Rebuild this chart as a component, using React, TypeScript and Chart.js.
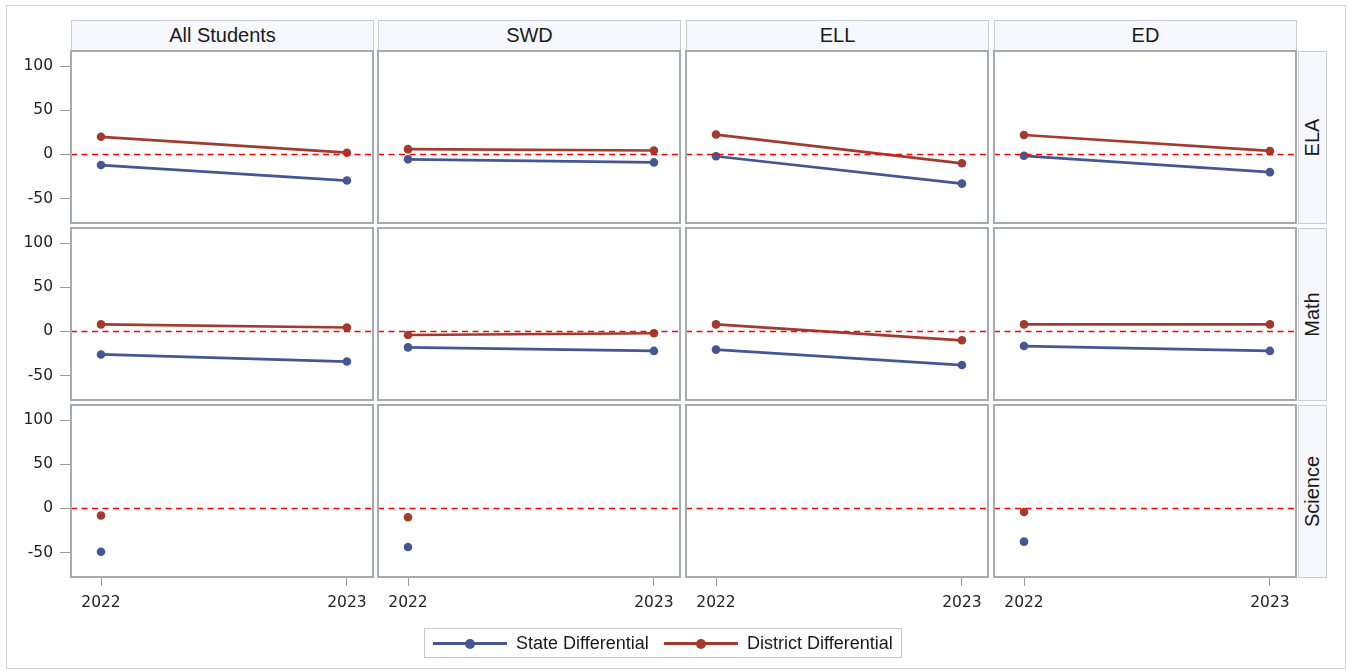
import React, { useEffect, useRef } from "react";
import { Chart, registerables } from "chart.js";

Chart.register(...registerables);

// ---------- data ----------
const YEARS = [2022, 2023];
const SUBGROUPS = ["All Students", "SWD", "ELL", "ED"];
const SUBJECTS = ["ELA", "Math", "Science"];
const Y_TICKS = [-50, 0, 50, 100];
const ZERO_REF = 0;

// one pair [2022, 2023] per subgroup (All Students, SWD, ELL, ED)
const STATE_ELA = [[-12, -29.5], [-5.5, -9], [-2, -33], [-1.5, -20]];
const DISTRICT_ELA = [[20, 2], [6, 4.5], [22.5, -10], [22, 4]];
const STATE_MATH = [[-26, -34], [-18, -22], [-20.5, -38], [-16.5, -22]];
const DISTRICT_MATH = [[8, 4.5], [-4, -2], [8, -10], [8, 8]];
const STATE_SCIENCE = [[-49, null], [-43.5, null], [null, null], [-37.5, null]];
const DISTRICT_SCIENCE = [[-8, null], [-10, null], [null, null], [-4, null]];

const STATE_BY_SUBJECT = [STATE_ELA, STATE_MATH, STATE_SCIENCE];
const DISTRICT_BY_SUBJECT = [DISTRICT_ELA, DISTRICT_MATH, DISTRICT_SCIENCE];

const SERIES_NAMES = ["State Differential", "District Differential"];
const SERIES_COLORS = ["#445694", "#A23A2E"];

// ---------- layout ----------
const PANEL_LEFT = [71, 378, 686, 994];
const PANEL_W = 302;
const PANEL_TOP = [51, 228, 405];
const PANEL_H = 172;
const PAD = 4;
const YAXIS_W = 64;
const XAXIS_H = 40;
const X_MIN = 2021.878;
const X_MAX = 2023.106;
const Y_MIN = -77.5;
const Y_MAX = 117;

const TICK_FONT = { family: "'DejaVu Sans', sans-serif", size: 15.5 };
const LABEL_FONT = "'Liberation Sans', Arial, sans-serif";

const panelPlugin = {
  id: "panelDecor",
  afterDatasetsDraw(chart: any) {
    const { ctx, chartArea, scales } = chart;
    const y0 = scales.y.getPixelForValue(ZERO_REF);
    ctx.save();
    ctx.strokeStyle = "#ff0000";
    ctx.lineWidth = 1.5;
    ctx.setLineDash([6, 4.5]);
    ctx.beginPath();
    ctx.moveTo(chartArea.left, y0);
    ctx.lineTo(chartArea.right, y0);
    ctx.stroke();
    ctx.restore();
  },
  afterDraw(chart: any) {
    const { ctx, chartArea } = chart;
    ctx.save();
    ctx.strokeStyle = "#a7abaf";
    ctx.lineWidth = 2;
    ctx.strokeRect(
      chartArea.left,
      chartArea.top,
      chartArea.right - chartArea.left,
      chartArea.bottom - chartArea.top
    );
    ctx.restore();
  },
};

function Panel({ r, c }: { r: number; c: number }) {
  const ref = useRef<HTMLCanvasElement | null>(null);
  const showY = c === 0;
  const showX = r === SUBJECTS.length - 1;
  const left = PANEL_LEFT[c] - PAD - (showY ? YAXIS_W : 0);
  const top = PANEL_TOP[r] - PAD;
  const w = PANEL_W + 2 * PAD + (showY ? YAXIS_W : 0);
  const h = PANEL_H + 2 * PAD + (showX ? XAXIS_H : 0);

  useEffect(() => {
    if (!ref.current) return;
    const stateVals = STATE_BY_SUBJECT[r][c];
    const districtVals = DISTRICT_BY_SUBJECT[r][c];
    const toPoints = (vals: (number | null)[]) =>
      YEARS.map((yr, i) => ({ x: yr, y: vals[i] }));
    const chart = new Chart(ref.current, {
      type: "line",
      data: {
        datasets: [stateVals, districtVals].map((vals, i) => ({
          label: SERIES_NAMES[i],
          data: toPoints(vals),
          borderColor: SERIES_COLORS[i],
          backgroundColor: SERIES_COLORS[i],
          pointBackgroundColor: SERIES_COLORS[i],
          pointBorderWidth: 0,
          pointRadius: 4.3,
          borderWidth: 2.7,
          spanGaps: false,
        })),
      },
      options: {
        responsive: false,
        animation: false,
        events: [],
        layout: {
          autoPadding: false,
          padding: { left: PAD, right: PAD, top: PAD, bottom: PAD },
        },
        plugins: { legend: { display: false }, tooltip: { enabled: false } },
        scales: {
          x: {
            type: "linear",
            display: showX,
            min: X_MIN,
            max: X_MAX,
            afterBuildTicks: (s: any) => {
              s.ticks = YEARS.map((v) => ({ value: v }));
            },
            afterFit: (s: any) => {
              s.height = showX ? XAXIS_H : 0;
              s.paddingLeft = 0;
              s.paddingRight = 0;
            },
            ticks: {
              font: TICK_FONT,
              color: "#222",
              padding: 8,
              maxRotation: 0,
              callback: (v: any) => String(v),
            },
            grid: { drawOnChartArea: false, tickLength: 9, color: "#9a9a9a" },
            border: { display: false },
          },
          y: {
            type: "linear",
            display: showY,
            min: Y_MIN,
            max: Y_MAX,
            afterBuildTicks: (s: any) => {
              s.ticks = Y_TICKS.map((v) => ({ value: v }));
            },
            afterFit: (s: any) => {
              s.width = showY ? YAXIS_W : 0;
              s.paddingTop = 0;
              s.paddingBottom = 0;
            },
            ticks: {
              font: TICK_FONT,
              color: "#222",
              padding: 7,
              callback: (v: any) => String(v),
            },
            grid: { drawOnChartArea: false, tickLength: 11, color: "#9a9a9a" },
            border: { display: false },
          },
        },
      },
      plugins: [panelPlugin],
    } as any);
    return () => chart.destroy();
  }, [r, c]);

  return (
    <canvas
      ref={ref}
      width={w}
      height={h}
      style={{ position: "absolute", left, top, width: w, height: h }}
    />
  );
}

const stripStyle: React.CSSProperties = {
  position: "absolute",
  boxSizing: "border-box",
  background: "#f6f8fd",
  border: "1px solid #c9cdd2",
  display: "flex",
  alignItems: "center",
  justifyContent: "center",
  fontFamily: LABEL_FONT,
  fontSize: 20,
  color: "#1a1a1a",
};

function LegendItem({ i, left }: { i: number; left: number }) {
  return (
    <div style={{ position: "absolute", left, top: 0, height: 28, display: "flex", alignItems: "center" }}>
      <div style={{ position: "relative", width: 74, height: 28 }}>
        <div
          style={{
            position: "absolute",
            left: 0,
            top: 13,
            width: 74,
            height: 3,
            background: SERIES_COLORS[i],
          }}
        />
        <div
          style={{
            position: "absolute",
            left: 32,
            top: 9.5,
            width: 10,
            height: 10,
            borderRadius: 5,
            background: SERIES_COLORS[i],
          }}
        />
      </div>
      <span
        style={{
          marginLeft: 9,
          fontFamily: LABEL_FONT,
          fontSize: 18,
          color: "#1a1a1a",
          whiteSpace: "nowrap",
        }}
      >
        {SERIES_NAMES[i]}
      </span>
    </div>
  );
}

export default function App() {
  return (
    <div
      style={{
        position: "absolute",
        left: 0,
        top: 0,
        width: 1348,
        height: 671,
        background: "#fff",
        overflow: "hidden",
      }}
    >
      <div
        style={{
          position: "absolute",
          left: 6,
          top: 5,
          width: 1338,
          height: 662,
          border: "1px solid #d3d3d3",
        }}
      />
      {SUBGROUPS.map((g, c) => (
        <div
          key={"h" + c}
          style={{
            ...stripStyle,
            left: PANEL_LEFT[c],
            top: 20,
            width: PANEL_W + 1,
            height: 31,
          }}
        >
          {g}
        </div>
      ))}
      {SUBJECTS.map((s, r) => (
        <div
          key={"r" + r}
          style={{
            ...stripStyle,
            left: 1298,
            top: PANEL_TOP[r],
            width: 29,
            height: PANEL_H + 1,
          }}
        >
          <span style={{ transform: "rotate(-90deg)", whiteSpace: "nowrap", display: "inline-block" }}>{s}</span>
        </div>
      ))}
      {SUBJECTS.map((_, r) =>
        SUBGROUPS.map((__, c) => <Panel key={r + "-" + c} r={r} c={c} />)
      )}
      <div
        style={{
          position: "absolute",
          left: 424,
          top: 628,
          width: 478,
          height: 30,
          boxSizing: "border-box",
          border: "1px solid #c8c8c8",
        }}
      >
        <LegendItem i={0} left={8} />
        <LegendItem i={1} left={239} />
      </div>
    </div>
  );
}
